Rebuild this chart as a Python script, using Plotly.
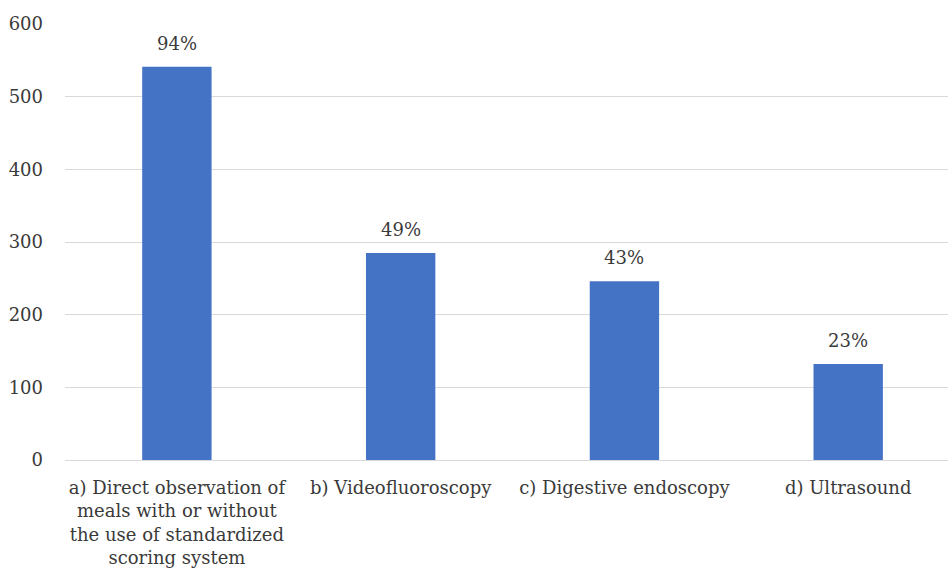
import plotly.graph_objects as go

categories = [
    "a) Direct observation of<br>meals with or without<br>the use of standardized<br>scoring system",
    "b) Videofluoroscopy",
    "c) Digestive endoscopy",
    "d) Ultrasound",
]
counts = [541, 285, 246, 132]
pct_labels = ["94%", "49%", "43%", "23%"]
y_ticks = [0, 100, 200, 300, 400, 500, 600]

font_family = "DejaVu Serif"
font_size = 18
text_color = "#3a3a3a"

fig = go.Figure()
fig.add_trace(go.Bar(
    x=categories,
    y=counts,
    marker=dict(color="#4472C4", line=dict(width=0)),
    width=0.31,
    hoverinfo="skip",
))

for cat, val, lab in zip(categories, counts, pct_labels):
    fig.add_annotation(
        x=cat, y=val, text=lab, showarrow=False,
        yanchor="bottom", yshift=11,
        font=dict(family=font_family, size=font_size, color=text_color),
    )

fig.update_layout(
    width=948, height=574,
    margin=dict(l=65, r=0, t=24, b=114),
    paper_bgcolor="white",
    plot_bgcolor="white",
    showlegend=False,
    font=dict(family=font_family, size=font_size, color=text_color),
    xaxis=dict(
        range=[-0.5, 3.446],
        automargin=False,
        showgrid=False,
        showline=False,
        ticks="",
        ticklabelstandoff=15,
        tickfont=dict(family=font_family, size=font_size, color=text_color),
    ),
    yaxis=dict(
        range=[0, 600],
        automargin=False,
        tickvals=y_ticks,
        showgrid=True,
        gridcolor="#d9d9d9",
        gridwidth=1,
        zeroline=True,
        zerolinecolor="#d9d9d9",
        zerolinewidth=1,
        showline=False,
        ticks="",
        ticklabelstandoff=21,
        tickfont=dict(family=font_family, size=font_size, color=text_color),
    ),
)

fig.write_html("out.html")
